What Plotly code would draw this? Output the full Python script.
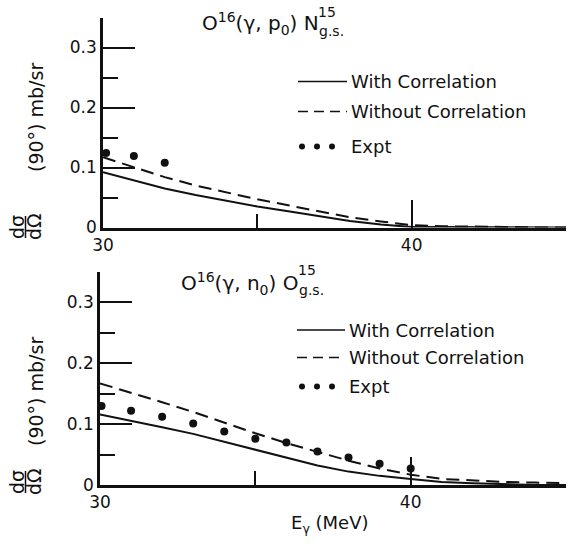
import plotly.graph_objects as go

# ---------------- data ----------------
energy = [30, 31, 32, 33, 34, 35, 36, 37, 38, 39, 40, 41, 42, 43, 44, 45]

p_with = [0.092, 0.078, 0.065, 0.054, 0.044, 0.035, 0.027, 0.019, 0.011, 0.005,
          0.001, 0.001, 0.001, 0.0, 0.0, 0.0]
p_without = [0.117, 0.100, 0.084, 0.070, 0.058, 0.047, 0.037, 0.027, 0.017, 0.010,
             0.004, 0.002, 0.002, 0.001, 0.0, 0.0]
p_expt_e = [30.1, 31.0, 32.0]
p_expt = [0.124, 0.119, 0.108]

n_with = [0.116, 0.106, 0.095, 0.084, 0.071, 0.057, 0.044, 0.032, 0.022, 0.015,
          0.010, 0.005, 0.003, 0.001, 0.0, 0.0]
n_without = [0.167, 0.152, 0.136, 0.120, 0.102, 0.085, 0.069, 0.054, 0.040, 0.027,
             0.017, 0.010, 0.007, 0.005, 0.004, 0.003]
n_expt_e = [30.05, 31.0, 32.0, 33.0, 34.0, 35.0, 36.0, 37.0, 38.0, 39.0, 40.0]
n_expt = [0.130, 0.122, 0.112, 0.101, 0.088, 0.076, 0.070, 0.055, 0.045, 0.035, 0.027]

y_ticks = [0, 0.1, 0.2, 0.3]
y_ticktext = ["0", "0.1", "0.2", "0.3"]
y_minor = [0.05, 0.15, 0.25, 0.35]
x_ticks = [30, 40]
x_ticktext = ["30", "40"]
x_minor = [35, 45]

legend_labels = ["With Correlation", "Without Correlation", "Expt"]

# ---------------- layout helpers ----------------
W, H = 578, 548
INK = "#111111"
FONT = "DejaVu Sans"


def xp(px):
    return px / W


def yp(py):
    return 1 - py / H


fig = go.Figure()

panels = [
    dict(xa="x", ya="y", w=p_with, wo=p_without, ee=p_expt_e, ev=p_expt),
    dict(xa="x2", ya="y2", w=n_with, wo=n_without, ee=n_expt_e, ev=n_expt),
]
for p in panels:
    fig.add_trace(go.Scatter(x=energy, y=p["w"], mode="lines", xaxis=p["xa"], yaxis=p["ya"],
                             line=dict(color=INK, width=2), showlegend=False,
                             name=legend_labels[0]))
    fig.add_trace(go.Scatter(x=energy, y=p["wo"], mode="lines", xaxis=p["xa"], yaxis=p["ya"],
                             line=dict(color=INK, width=2, dash="13px,7px"), showlegend=False,
                             name=legend_labels[1]))
    fig.add_trace(go.Scatter(x=p["ee"], y=p["ev"], mode="markers", xaxis=p["xa"], yaxis=p["ya"],
                             marker=dict(color=INK, size=8), showlegend=False,
                             name=legend_labels[2]))

axis_common = dict(showline=True, linecolor=INK, linewidth=2.5, showgrid=False, zeroline=False,
                   ticks="inside", tickcolor=INK, tickwidth=1.5, automargin=False,
                   tickfont=dict(family=FONT, size=17, color=INK), mirror=False)

xa_common = dict(axis_common, range=[30, 45], tickvals=x_ticks, ticktext=x_ticktext, ticklen=28,
                 minor=dict(tickvals=x_minor, ticks="inside", ticklen=14, tickcolor=INK, tickwidth=1.5))
ya_common = dict(axis_common, range=[0, 0.35], tickvals=y_ticks, ticktext=y_ticktext, ticklen=32,
                 minor=dict(tickvals=y_minor, ticks="inside", ticklen=15, tickcolor=INK, tickwidth=1.5))

fig.update_layout(
    width=W, height=H,
    margin=dict(l=0, r=0, t=0, b=0, autoexpand=False),
    paper_bgcolor="white", plot_bgcolor="white",
    xaxis=dict(xa_common, domain=[xp(103), xp(566)], anchor="y"),
    yaxis=dict(ya_common, domain=[yp(227.5), yp(17.5)], anchor="x"),
    xaxis2=dict(xa_common, domain=[xp(100), xp(566)], anchor="y2"),
    yaxis2=dict(ya_common, domain=[yp(485), yp(272)], anchor="x2"),
    showlegend=False,
)

annotations = []
shapes = []


def text(px, py, s, size=17, xanchor="center", angle=0):
    annotations.append(dict(x=xp(px), y=yp(py), xref="paper", yref="paper", text=s,
                            showarrow=False, xanchor=xanchor, yanchor="middle", textangle=angle,
                            font=dict(family=FONT, size=size, color=INK)))


# titles
text(321, 24, "O<sup>16</sup>(γ, p<sub>0</sub>) N", size=20, xanchor="right")
text(316, 12, "15", size=14, xanchor="left")
text(317, 31, "g.s.", size=14, xanchor="left")

text(300, 283, "O<sup>16</sup>(γ, n<sub>0</sub>) O", size=20, xanchor="right")
text(296, 270, "15", size=14, xanchor="left")
text(297, 290, "g.s.", size=14, xanchor="left")

# legends
for (y1, y2, y3, x0, x1) in [(81.5, 111.5, 146.5, 298, 347), (330, 357.5, 386.5, 297, 345)]:
    shapes.append(dict(type="line", xref="paper", yref="paper", x0=xp(x0), x1=xp(x1),
                       y0=yp(y1), y1=yp(y1), line=dict(color=INK, width=1.5)))
    shapes.append(dict(type="line", xref="paper", yref="paper", x0=xp(x0), x1=xp(x1),
                       y0=yp(y2), y1=yp(y2), line=dict(color=INK, width=1.5, dash="10px,6px")))
    for cx in (302, 317, 332):
        shapes.append(dict(type="circle", xref="paper", yref="paper",
                           x0=xp(cx - 3), x1=xp(cx + 3), y0=yp(y3 + 3), y1=yp(y3 - 3),
                           fillcolor=INK, line=dict(color=INK, width=0)))
    text(x1 + 2, y1, legend_labels[0], size=18, xanchor="left")
    text(x1 + 2, y2, legend_labels[1], size=18, xanchor="left")
    text(x1 + 2, y3, legend_labels[2], size=18, xanchor="left")

# y-axis labels (fraction + units)
for (yc, yu) in [(227, 118), (482, 392)]:
    text(17, yc, "dσ", size=19, angle=-90)
    shapes.append(dict(type="line", xref="paper", yref="paper", x0=xp(25.5), x1=xp(25.5),
                       y0=yp(yc - 11), y1=yp(yc + 11), line=dict(color=INK, width=1.5)))
    text(34, yc, "dΩ", size=19, angle=-90)
    text(36, yu, "(90°) mb/sr", size=19, angle=-90)

# x-axis title
text(330, 524, "E<sub>γ</sub> (MeV)", size=18)

fig.update_layout(annotations=annotations, shapes=shapes)

fig.write_html("out.html", config={"displayModeBar": False},
               post_script="document.body.style.margin='0';document.body.style.overflow='hidden';")
